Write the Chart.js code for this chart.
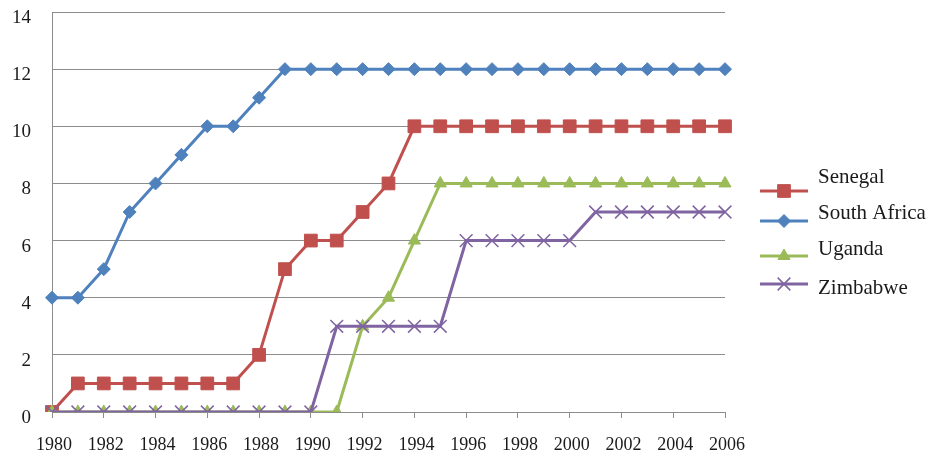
<!DOCTYPE html>
<html>
<head>
<meta charset="utf-8">
<script src="https://cdn.jsdelivr.net/npm/chart.js@4.4.0/dist/chart.umd.min.js"></script>
<style>
  html, body { margin: 0; padding: 0; background: #fff; }
  #wrap { width: 931px; height: 460px; }
</style>
</head>
<body>
<div id="wrap"><canvas id="chart"></canvas></div>
<script>
// years on the x axis
const years = [1980, 1981, 1982, 1983, 1984, 1985, 1986, 1987, 1988, 1989, 1990,
  1991, 1992, 1993, 1994, 1995, 1996, 1997, 1998, 1999, 2000,
  2001, 2002, 2003, 2004, 2005, 2006];

// series values
const senegal = [0, 1, 1, 1, 1, 1, 1, 1, 2, 5, 6, 6, 7, 8, 10, 10, 10, 10, 10, 10, 10, 10, 10, 10, 10, 10, 10];
const southAfrica = [4, 4, 5, 7, 8, 9, 10, 10, 11, 12, 12, 12, 12, 12, 12, 12, 12, 12, 12, 12, 12, 12, 12, 12, 12, 12, 12];
const uganda = [0, 0, 0, 0, 0, 0, 0, 0, 0, 0, 0, 0, 3, 4, 6, 8, 8, 8, 8, 8, 8, 8, 8, 8, 8, 8, 8];
const zimbabwe = [0, 0, 0, 0, 0, 0, 0, 0, 0, 0, 0, 3, 3, 3, 3, 3, 6, 6, 6, 6, 6, 7, 7, 7, 7, 7, 7];

const yTicks = [0, 2, 4, 6, 8, 10, 12, 14];

const FONT = "'Liberation Serif', 'DejaVu Serif', serif";
const TEXT = "#1a1a1a";
const GRID = "#8c8c8c";

// legend drawn by hand: line sample with marker, label on the right
const legendRows = [
  { text: 177, mark: 191 },
  { text: 213, mark: 221 },
  { text: 249, mark: 256 },
  { text: 288, mark: 284 }
];

const sideLegend = {
  id: "sideLegend",
  afterDraw(chart) {
    const ctx = chart.ctx;
    chart.data.datasets.forEach((ds, i) => {
      const row = legendRows[i];
      ctx.save();
      ctx.strokeStyle = ds.borderColor;
      ctx.lineWidth = 3;
      ctx.beginPath();
      ctx.moveTo(760, row.mark);
      ctx.lineTo(808, row.mark);
      ctx.stroke();
      ctx.fillStyle = ds.pointBackgroundColor;
      ctx.strokeStyle = ds.pointBorderColor;
      ctx.lineWidth = ds.pointBorderWidth;
      Chart.helpers.drawPoint(ctx, {
        pointStyle: ds.pointStyle,
        radius: ds.pointRadius,
        rotation: 0,
        borderWidth: ds.pointBorderWidth
      }, 784, row.mark);
      ctx.fillStyle = TEXT;
      ctx.font = "21px " + FONT;
      ctx.textBaseline = "middle";
      ctx.textAlign = "left";
      ctx.fillText(ds.label, 818, row.text);
      ctx.restore();
    });
  }
};

function series(label, data, color, style, radius, border, order) {
  return {
    label: label,
    data: data,
    borderColor: color,
    backgroundColor: color,
    pointBackgroundColor: color,
    pointBorderColor: color,
    pointStyle: style,
    pointRadius: radius,
    pointHoverRadius: radius,
    pointBorderWidth: border,
    borderWidth: 3,
    tension: 0,
    fill: false,
    order: order
  };
}

new Chart(document.getElementById("chart"), {
  type: "line",
  data: {
    labels: years,
    datasets: [
      series("Senegal", senegal, "#C0504D", "rect", 9, 1, 4),
      series("South Africa", southAfrica, "#4F81BD", "rectRot", 6.5, 1, 3),
      series("Uganda", uganda, "#9BBB59", "triangle", 7, 1, 2),
      series("Zimbabwe", zimbabwe, "#8064A2", "crossRot", 9, 1.5, 1)
    ]
  },
  options: {
    responsive: true,
    maintainAspectRatio: false,
    animation: false,
    layout: { padding: { left: 12, right: 206, top: 12, bottom: 4 } },
    plugins: {
      legend: { display: false },
      tooltip: { enabled: false }
    },
    scales: {
      x: {
        offset: false,
        afterFit: function (scale) {
          scale.paddingLeft = 0;
          scale.paddingRight = 0;
          scale.height = 44;
        },
        grid: {
          drawOnChartArea: false,
          drawTicks: true,
          tickLength: 6,
          color: GRID
        },
        border: { color: GRID, width: 1 },
        ticks: {
          autoSkip: false,
          maxRotation: 0,
          padding: 16,
          labelOffset: 2,
          color: TEXT,
          font: { family: FONT, size: 18 },
          callback: function (value, index) {
            return index % 2 === 0 ? years[index] : null;
          }
        }
      },
      y: {
        min: yTicks[0],
        max: yTicks[yTicks.length - 1],
        afterBuildTicks: function (axis) {
          axis.ticks = yTicks.map(v => ({ value: v }));
        },
        afterFit: function (scale) {
          scale.paddingTop = 0;
          scale.paddingBottom = 0;
          scale.width = 40;
        },
        grid: {
          drawTicks: false,
          color: GRID,
          lineWidth: 1
        },
        border: { color: GRID, width: 1 },
        ticks: {
          padding: 21,
          labelOffset: 6,
          color: TEXT,
          font: { family: FONT, size: 19 }
        }
      }
    }
  },
  plugins: [sideLegend]
});
</script>
</body>
</html>
